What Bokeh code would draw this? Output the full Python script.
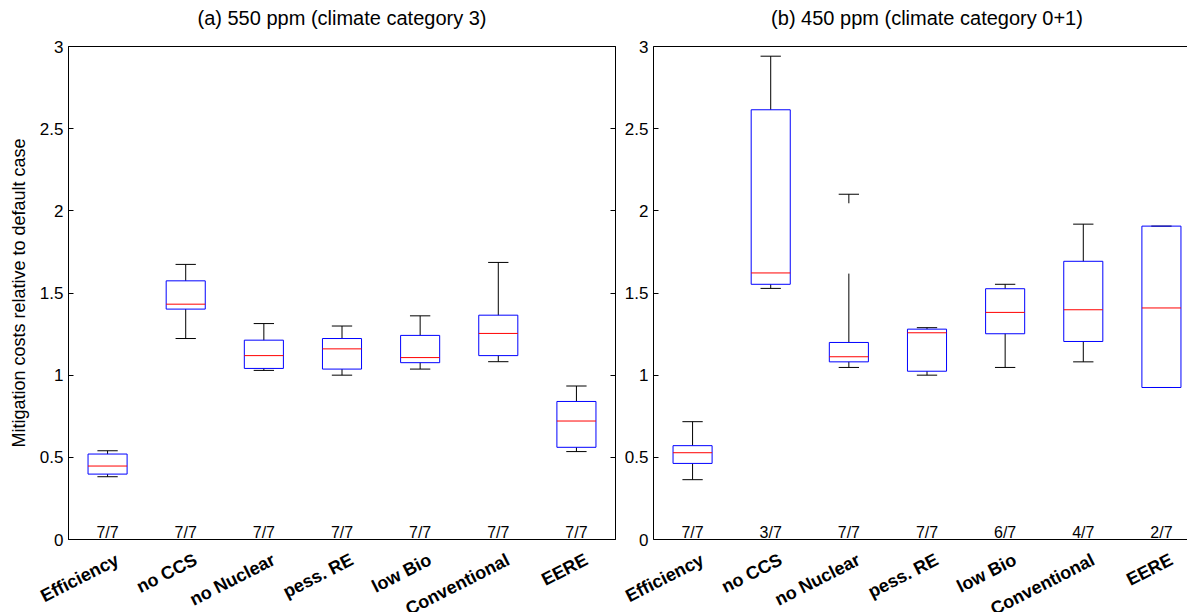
from bokeh.plotting import figure
from bokeh.layouts import row, column
from bokeh.models import LinearAxis, FixedTicker, Range1d
from bokeh.embed import file_html
from bokeh.resources import INLINE
from bokeh.core.properties import value

categories = ["Efficiency", "no CCS", "no Nuclear", "pess. RE", "low Bio", "Conventional", "EERE"]
yticks = [0, 0.5, 1, 1.5, 2, 2.5, 3]

# (a) 550 ppm
a_title = "(a) 550 ppm (climate category 3)"
a_lo  = [0.382, 1.223, 1.029, 1.000, 1.037, 1.082, 0.535]
a_q1  = [0.398, 1.402, 1.041, 1.037, 1.076, 1.119, 0.561]
a_med = [0.447, 1.432, 1.119, 1.160, 1.107, 1.254, 0.721]
a_q3  = [0.520, 1.574, 1.213, 1.223, 1.242, 1.365, 0.840]
a_hi  = [0.540, 1.674, 1.314, 1.299, 1.361, 1.686, 0.934]
a_counts = ["7/7", "7/7", "7/7", "7/7", "7/7", "7/7", "7/7"]

# (b) 450 ppm
b_title = "(b) 450 ppm (climate category 0+1)"
b_lo  = [0.364, 1.528, 1.047, 1.000, 1.047, 1.081, 0.925]
b_q1  = [0.463, 1.553, 1.081, 1.024, 1.252, 1.205, 0.925]
b_med = [0.528, 1.622, 1.112, 1.258, 1.382, 1.398, 1.409]
b_q3  = [0.571, 2.615, 1.199, 1.280, 1.526, 1.693, 1.907]
b_hi  = [0.717, 2.941, 2.101, 1.289, 1.553, 1.919, 1.907]
# upper whisker drawn with a break (no Nuclear)
b_break_lo = [None, None, 1.618, None, None, None, None]
b_break_hi = [None, None, 2.046, None, None, None, None]
b_counts = ["7/7", "3/7", "7/7", "7/7", "6/7", "4/7", "2/7"]

ylabel = "Mitigation costs relative to default case"

FONT = "Liberation Sans"
UNIT_PX = 547 / 7.0          # pixels per category
TITLE_H, PLOT_H, LAB_H = 36, 513, 63
PAD = 10                     # plot border above/below the frame


def strip(width, bl, height):
    """Figure without axes whose frame covers the whole canvas, sharing x scale with a panel."""
    xr = Range1d(0.5 - bl / UNIT_PX, 0.5 + (width - bl) / UNIT_PX)
    s = figure(width=width, height=height, x_range=xr, y_range=Range1d(height, 0),
               output_backend="svg", toolbar_location=None,
               min_border_left=0, min_border_right=0, min_border_top=0, min_border_bottom=0,
               x_axis_location=None, y_axis_location=None)
    s.grid.visible = False
    s.outline_line_color = None
    s.background_fill_color = "white"
    s.border_fill_color = "white"
    return s


def title_strip(text, width, bl):
    s = strip(width, bl, TITLE_H)
    s.text(x=[4.0], y=[17], text=[text], text_font=value(FONT), text_font_size="20px",
           text_align="center", text_baseline="middle", text_color="black")
    return s


def label_strip(width, bl):
    s = strip(width, bl, LAB_H)
    xs = list(range(1, len(categories) + 1))
    s.text(x=xs, y=[9] * len(xs), text=categories, angle=27, angle_units="deg",
           x_offset=10, text_font=value(FONT), text_font_size="18px", text_font_style="bold",
           text_align="right", text_baseline="middle", text_color="black")
    return s


def make_panel(lo, q1, med, q3, hi, counts, width, bl, br, frame_w,
               ylab=None, brk_lo=None, brk_hi=None, left_panel=True):
    xs = list(range(1, len(categories) + 1))
    x_end = 0.5 + frame_w / UNIT_PX
    p = figure(width=width, height=PLOT_H, x_range=Range1d(0.5, x_end), y_range=Range1d(0, 3),
               output_backend="svg", toolbar_location=None,
               min_border_left=bl, min_border_right=br, min_border_top=PAD, min_border_bottom=PAD,
               x_axis_location=None, y_axis_location=None)
    p.grid.visible = False
    p.background_fill_color = "white"
    p.border_fill_color = "white"

    yax = LinearAxis(ticker=FixedTicker(ticks=yticks))
    yax.major_tick_in = 5
    yax.major_tick_out = 0
    yax.minor_tick_line_color = None
    yax.major_label_standoff = 5
    yax.major_label_text_font = FONT
    yax.major_label_text_font_size = "17px"
    yax.major_label_text_color = "black"
    yax.axis_line_color = "black"
    yax.major_tick_line_color = "black"
    if ylab:
        yax.axis_label = ylab
        yax.axis_label_text_font = FONT
        yax.axis_label_text_font_style = "normal"
        yax.axis_label_text_font_size = "18px"
        yax.axis_label_text_color = "black"
        yax.axis_label_standoff = 8
    p.add_layout(yax, "left")

    if left_panel:
        p.outline_line_color = "black"
        rax = LinearAxis(ticker=FixedTicker(ticks=yticks))
        rax.major_tick_in = 5
        rax.major_tick_out = 0
        rax.minor_tick_line_color = None
        rax.major_label_text_font_size = "1px"
        rax.major_label_text_color = None
        rax.major_label_standoff = 0
        rax.axis_line_color = "black"
        p.add_layout(rax, "right")
    else:
        p.outline_line_color = None
        for loc in ("above", "below"):
            ax = LinearAxis(ticker=FixedTicker(ticks=[]))
            ax.major_tick_in = 0
            ax.major_tick_out = 0
            ax.minor_tick_line_color = None
            ax.major_label_text_font_size = "1px"
            ax.major_label_text_color = None
            ax.major_label_standoff = 0
            ax.axis_line_color = "black"
            p.add_layout(ax, loc)

    # whiskers (drawn before boxes)
    up_x, up_y0, up_y1 = [], [], []
    for i, x in enumerate(xs):
        if brk_lo is not None and brk_lo[i] is not None:
            up_x += [x, x]
            up_y0 += [q3[i], brk_hi[i]]
            up_y1 += [brk_lo[i], hi[i]]
        else:
            up_x.append(x)
            up_y0.append(q3[i])
            up_y1.append(hi[i])
    p.segment(x0=up_x, y0=up_y0, x1=up_x, y1=up_y1, line_color="black", line_width=1)
    p.segment(x0=xs, y0=lo, x1=xs, y1=q1, line_color="black", line_width=1)
    cap = 0.13
    p.segment(x0=[x - cap for x in xs], y0=hi, x1=[x + cap for x in xs], y1=hi,
              line_color="black", line_width=1)
    p.segment(x0=[x - cap for x in xs], y0=lo, x1=[x + cap for x in xs], y1=lo,
              line_color="black", line_width=1)

    hw = 0.25
    p.quad(left=[x - hw for x in xs], right=[x + hw for x in xs], bottom=q1, top=q3,
           fill_color=None, line_color="#0000ff", line_width=1)
    p.segment(x0=[x - hw for x in xs], y0=med, x1=[x + hw for x in xs], y1=med,
              line_color="#ff0000", line_width=1)

    p.text(x=xs, y=[0.044] * len(xs), text=counts, text_font=value(FONT),
           text_font_size="16px", text_align="center", text_baseline="alphabetic",
           text_color="black")
    return p


WA, BLA = 620, 68
WB, BLB = 567, 33

pa = make_panel(a_lo, a_q1, a_med, a_q3, a_hi, a_counts, width=WA, bl=BLA, br=5, frame_w=547,
                ylab=ylabel, left_panel=True)
pb = make_panel(b_lo, b_q1, b_med, b_q3, b_hi, b_counts, width=WB, bl=BLB, br=0, frame_w=534,
                brk_lo=b_break_lo, brk_hi=b_break_hi, left_panel=False)

layout = column(
    row(title_strip(a_title, WA, BLA), title_strip(b_title, WB, BLB)),
    row(pa, pb),
    row(label_strip(WA, BLA), label_strip(WB, BLB)),
)
open("out.html", "w").write(file_html(layout, INLINE))
